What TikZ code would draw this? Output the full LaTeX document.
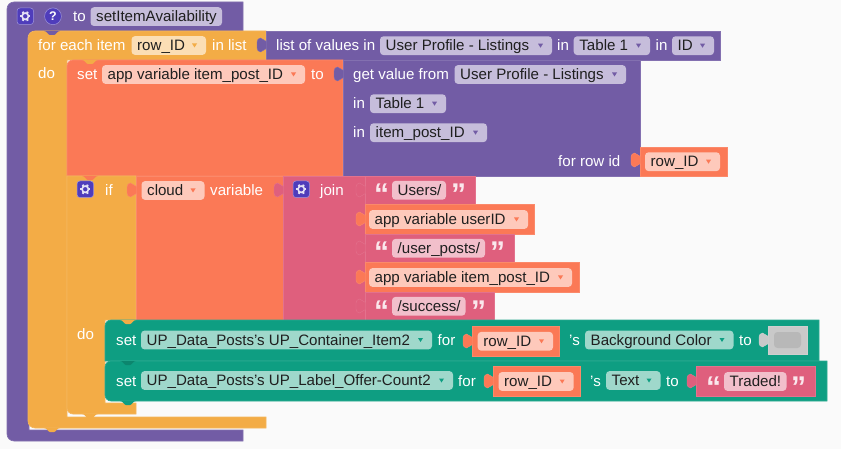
\documentclass[tikz,border=0pt]{standalone}
\usepackage{fontspec}
\setmainfont{Liberation Sans}
\usepackage{tikz}
\usetikzlibrary{calc}

\definecolor{bgcol}{HTML}{FAFAFA}
\definecolor{procol}{HTML}{725CA5}
\definecolor{ctlcol}{HTML}{F3AC46}
\definecolor{varcol}{HTML}{FB7956}
\definecolor{txtcol}{HTML}{DF5F7D}
\definecolor{setcol}{HTML}{0E9E82}
\definecolor{swatchcol}{HTML}{C9C9C9}
\definecolor{pillpro}{HTML}{C6BDDB}
\definecolor{pillctl}{HTML}{FBDEB5}
\definecolor{pillvar}{HTML}{FEC9BB}
\definecolor{pilltxt}{HTML}{F2BFCB}
\definecolor{pillset}{HTML}{9FD8CB}
\definecolor{gearcol}{HTML}{4F3DBB}

\tikzset{
    block/.style={fill=#1, draw=#1!88!white, line width=0.6pt},
    lbl/.style={anchor=base west, inner sep=0pt, text=white, font=\fontsize{15.1}{16}\selectfont},
    pilllbl/.style={anchor=base west, inner sep=0pt, text=black!88, font=\fontsize{15.1}{16}\selectfont},
    quot/.style={anchor=base west, inner sep=0pt, text=white!85!txtcol, font=\fontsize{30}{30}\selectfont\bfseries},
}

% x1 x2 yc colour name text
\newcommand{\pillbox}[6]{
    \fill[pill#4, rounded corners=3.5pt] (#1,#3-9.4) rectangle (#2,#3+9.4);
    \node[pilllbl] (#5) at (#1+5.5,#3+5.3) {#6};
}
% same, with the little dropdown triangle
\newcommand{\droppill}[7]{
    \pillbox{#1}{#2}{#3}{#4}{#5}{#6}
    \fill[#7] (#2-14,#3-2) -- (#2-9,#3-2) -- (#2-11.5,#3+2) -- cycle;
}
% x (edge of block) y (top of tab) colour
\newcommand{\plug}[3]{
    \draw[fill=#3, draw=#3!88!white, line width=0.4pt] (#1+0.5,#2+3.5) .. controls (#1-2,#2+3.5) and (#1-3,#2) .. (#1-5.5,#2)
        .. controls (#1-7.5,#2) and (#1-9,#2+2) .. (#1-9,#2+4) -- (#1-9,#2+10)
        .. controls (#1-9,#2+12) and (#1-7.5,#2+14) .. (#1-5.5,#2+14)
        .. controls (#1-3,#2+14) and (#1-2,#2+10.5) .. (#1+0.5,#2+10.5) -- cycle;
}
% x y colour
\newcommand{\notch}[3]{
    \fill[#3] (#1,#2) .. controls (#1+3,#2) and (#1+4,#2+4) .. (#1+6,#2+4)
        -- (#1+10,#2+4) .. controls (#1+12,#2+4) and (#1+13,#2) .. (#1+16,#2) -- cycle;
}
% x y
\newcommand{\gearbtn}[2]{
    \fill[gearcol] (#1,#2) [rounded corners=3pt] rectangle (#1+16.5,#2+16.5);
    \draw[white!45!gearcol, line width=0.5pt, rounded corners=3pt] (#1,#2) rectangle (#1+16.5,#2+16.5);
    \foreach \a in {0,60,...,300}
        \draw[white!85!gearcol, line width=2pt] ($(#1+8.25,#2+8.25)+(\a:3)$) -- ($(#1+8.25,#2+8.25)+(\a:5.2)$);
    \draw[white!85!gearcol, line width=1.6pt] (#1+8.25,#2+8.25) circle (3.2);
}

\begin{document}
\begin{tikzpicture}[x=1pt,y=-1pt]
    \fill[bgcol] (0,0) rectangle (841,449);
    \useasboundingbox (0,0) rectangle (841,449);

    % procedure
    \draw[block=procol] (243,36) -- (29,36) -- (29,430) -- (243,430) -- (243,441)
        [rounded corners=7pt] -- (7,441) -- (7,2) [sharp corners] -- (243,2) -- cycle;
    \gearbtn{17}{8}
    \fill[gearcol] (53,16.3) circle (8.4);
    \draw[white!45!gearcol, line width=0.5pt] (53,16.3) circle (8.4);
    \node[lbl, font=\fontsize{12.5}{14}\selectfont\bfseries, anchor=center] (helpmark) at (53,16.3) {?};
    \node[lbl] (toproc) at (73,22) {to};
    \pillbox{90.5}{222}{16.6}{pro}{procname}{setItemAvailability}

    % for each
    \draw[block=ctlcol] (266,31) -- (266,60) -- (67,60) -- (67,417) -- (266,417) -- (266,428)
        [rounded corners=7pt] -- (28,428) -- (28,31) [sharp corners] -- cycle;
    \notch{44}{31}{procol}
    \notch{44}{428}{ctlcol}
    \node[lbl] (foreachitem) at (38,51) {for each item};
    \droppill{131.5}{206}{45.5}{ctl}{rowa}{row\_ID}{ctlcol}
    \node[lbl] (inlist) at (212,51) {in list};
    \node[lbl] (doa) at (38,79) {do};

    % list of values
    \draw[block=procol] (266,31) rectangle (720,60);
    \plug{266}{38}{procol}
    \node[lbl] (listof) at (276,51) {list of values in};
    \droppill{380}{552}{45.7}{pro}{lista}{User Profile - Listings}{procol}
    \node[lbl] (inb) at (557,51) {in};
    \droppill{573.7}{650}{45.7}{pro}{listb}{Table 1}{procol}
    \node[lbl] (inc) at (655.5,51) {in};
    \droppill{672}{714}{45.7}{pro}{listc}{ID}{procol}

    % set item_post_ID
    \draw[block=varcol] (343,60) -- (343,176) -- (67,176)
        [rounded corners=6pt] -- (67,60) [sharp corners] -- cycle;
    \notch{82}{60}{ctlcol}
    \node[lbl] (setitem) at (77,80) {set};
    \droppill{102}{305}{74.5}{var}{itemvar}{app variable item\_post\_ID}{varcol}
    \node[lbl] (toitem) at (311,80) {to};

    % get value
    \draw[block=procol] (343,60) rectangle (640,176);
    \plug{343}{67}{procol}
    \node[lbl] (getval) at (353,80) {get value from};
    \droppill{454.5}{626}{74.5}{pro}{getta}{User Profile - Listings}{procol}
    \node[lbl] (ind) at (353,109) {in};
    \droppill{370}{446}{103.7}{pro}{gettb}{Table 1}{procol}
    \node[lbl] (ine) at (353,138) {in};
    \droppill{370}{487}{132.7}{pro}{gettc}{item\_post\_ID}{procol}
    \node[lbl] (forrow) at (558,167) {for row id};
    \draw[block=varcol] (640,147) rectangle (727,176);
    \plug{640}{153}{varcol}
    \droppill{645}{720}{161.7}{var}{rowb}{row\_ID}{varcol}

    % if block
    \draw[block=ctlcol] (136,176) -- (136,320) -- (105,320) -- (105,403) -- (136,403) -- (136,414)
        [rounded corners=6pt] -- (67,414) [sharp corners] -- (67,176) -- cycle;
    \notch{82}{176}{varcol}
    \notch{82}{414}{ctlcol}
    \gearbtn{77}{181}
    \node[lbl] (ifword) at (105,196) {if};
    \node[lbl] (doc) at (77,339) {do};

    % cloud variable
    \draw[block=varcol] (136,176) rectangle (283,320);
    \plug{136}{183}{varcol}
    \droppill{141.5}{204.5}{190.5}{var}{cloudvar}{cloud}{varcol}
    \node[lbl] (varword) at (210,196) {variable};

    % join
    \draw[block=txtcol] (283,176) rectangle (365,320);
    \plug{283}{183}{txtcol}
    \gearbtn{293}{181}
    \node[lbl] (joinword) at (320,196) {join};

    % strings and variables in the join
    \draw[block=txtcol] (365,176) rectangle (475,204);
    \plug{365}{183}{txtcol}
    \node[quot] (qa) at (374,205) {“};
    \pillbox{392}{446}{190.3}{txt}{usersword}{Users/}
    \node[quot] (qb) at (451,205) {”};

    \draw[block=varcol] (365,204) rectangle (534,234);
    \plug{365}{212}{varcol}
    \droppill{369}{528}{219.5}{var}{useridvar}{app variable userID}{varcol}

    \draw[block=txtcol] (365,234) rectangle (514,262);
    \plug{365}{241}{txtcol}
    \node[quot] (qc) at (374,263) {“};
    \pillbox{392}{485}{248.3}{txt}{postsword}{/user\_posts/}
    \node[quot] (qd) at (490,263) {”};

    \draw[block=varcol] (365,262) rectangle (579,292);
    \plug{365}{270}{varcol}
    \droppill{369}{572}{277.5}{var}{itemvarb}{app variable item\_post\_ID}{varcol}

    \draw[block=txtcol] (365,292) rectangle (494,320);
    \plug{365}{299}{txtcol}
    \node[quot] (qe) at (374,321) {“};
    \pillbox{392}{465.5}{306.3}{txt}{successword}{/success/}
    \node[quot] (qf) at (471,321) {”};

    % set Background Color
    \draw[block=setcol] (819,320) -- (819,361) -- (105,361)
        [rounded corners=6pt] -- (105,320) [sharp corners] -- cycle;
    \notch{120}{320}{ctlcol}
    \node[lbl] (setbg) at (116,345.5) {set};
    \droppill{141}{432}{340}{set}{contitem}{UP\_Data\_Posts's UP\_Container\_Item2}{setcol}
    \node[lbl] (forbg) at (437.5,345.5) {for};
    \draw[block=varcol] (472,326.5) rectangle (559,356);
    \plug{472}{334}{varcol}
    \droppill{477.7}{553}{341.3}{var}{rowc}{row\_ID}{varcol}
    \node[lbl] (possa) at (569,345.5) {'s};
    \droppill{585}{733.5}{340}{set}{bgprop}{Background Color}{setcol}
    \node[lbl] (tobg) at (739,345.5) {to};
    \draw[block=swatchcol] (768,326) rectangle (807,354);
    \plug{768}{333}{swatchcol}
    \fill[black!28, rounded corners=3.5pt] (774,332) rectangle (801,348);

    % set Text
    \draw[block=setcol] (827,361) -- (827,401)
        [rounded corners=6pt] -- (105,401) -- (105,361) [sharp corners] -- cycle;
    \notch{120}{361}{setcol!85!black}
    \notch{120}{401}{setcol}
    \node[lbl] (settxt) at (116,386.5) {set};
    \droppill{141}{453}{380.5}{set}{labelitem}{UP\_Data\_Posts's UP\_Label\_Offer-Count2}{setcol}
    \node[lbl] (fortxt) at (458,386.5) {for};
    \draw[block=varcol] (493,366.5) rectangle (580,396);
    \plug{493}{374}{varcol}
    \droppill{498.5}{573.7}{381.5}{var}{rowd}{row\_ID}{varcol}
    \node[lbl] (possb) at (590,386.5) {'s};
    \droppill{606}{660.5}{380.5}{set}{textprop}{Text}{setcol}
    \node[lbl] (totxt) at (666,386.5) {to};
    \draw[block=txtcol] (696,366.5) rectangle (815,396);
    \plug{696}{374}{txtcol}
    \node[quot] (qg) at (706,397) {“};
    \pillbox{724}{786.5}{381.5}{txt}{tradedword}{Traded!}
    \node[quot] (qh) at (791,397) {”};
\end{tikzpicture}
\end{document}
